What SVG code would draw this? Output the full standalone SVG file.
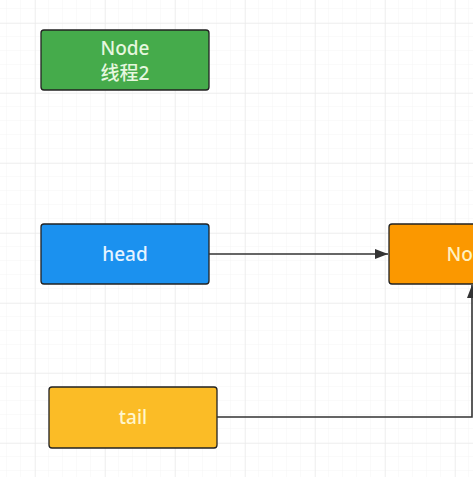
<svg xmlns="http://www.w3.org/2000/svg" width="473" height="477" viewBox="0 0 473 477">
<defs>
<pattern id="minor" width="14" height="14" patternUnits="userSpaceOnUse" x="-7" y="9">
<path d="M14 0V14M0 14H14" fill="none" stroke="#f4f4f4" stroke-width="1"/>
</pattern>
<pattern id="major" width="70" height="70" patternUnits="userSpaceOnUse" x="35" y="23">
<path d="M0 0V70M0 0H70" fill="none" stroke="#e6e6e6" stroke-width="1"/>
</pattern>
<marker id="arr" markerWidth="14" markerHeight="12" refX="13" refY="6" orient="auto" markerUnits="userSpaceOnUse">
<path d="M0 1L13 6L0 11Z" fill="#333"/>
</marker>
</defs>
<style>
.box{stroke:#222;stroke-width:1.3}
.t{font-family:"Noto Sans","Noto Sans CJK SC",sans-serif;font-size:19px;font-weight:500;text-anchor:middle}
.edge{fill:none;stroke:#333;stroke-width:1.6}
</style>
<rect width="473" height="477" fill="#fff"/>
<rect width="473" height="477" fill="url(#minor)"/>
<rect width="473" height="477" fill="url(#major)"/>
<g id="node-thread2">
<rect class="box" x="41" y="30" width="168" height="60" rx="3" fill="#45ab4b"/>
<text class="t" x="125" y="55" fill="#e6f7df">Node</text>
<text class="t" x="125" y="80" fill="#e6f7df">线程2</text>
</g>
<g id="node-head">
<rect class="box" x="41" y="224" width="168" height="60" rx="3" fill="#1b91ef"/>
<text class="t" x="125" y="261" fill="#e6f4ff">head</text>
</g>
<g id="node-node">
<rect class="box" x="389" y="224" width="168" height="60" rx="3" fill="#fb9800"/>
<text class="t" x="471" y="261" fill="#fff2c2">Node</text>
</g>
<g id="node-tail">
<rect class="box" x="49" y="387" width="168" height="61" rx="3" fill="#fbbc26"/>
<text class="t" x="133" y="424" fill="#fff6cc">tail</text>
</g>
<g id="connectors">
<path class="edge" d="M209 254H388" marker-end="url(#arr)"/>
<path class="edge" d="M217 417H472V285" marker-end="url(#arr)"/>
</g>
</svg>
